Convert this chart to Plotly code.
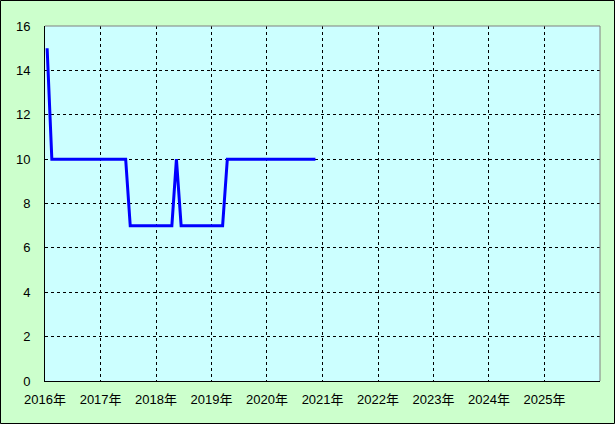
import plotly.graph_objects as go

# Monthly values, Jan 2016 .. Nov 2020 (plotted at mid-month)
months = [
    "2016-01", "2016-02", "2016-03", "2016-04", "2016-05", "2016-06",
    "2016-07", "2016-08", "2016-09", "2016-10", "2016-11", "2016-12",
    "2017-01", "2017-02", "2017-03", "2017-04", "2017-05", "2017-06",
    "2017-07", "2017-08", "2017-09", "2017-10", "2017-11", "2017-12",
    "2018-01", "2018-02", "2018-03", "2018-04", "2018-05", "2018-06",
    "2018-07", "2018-08", "2018-09", "2018-10", "2018-11", "2018-12",
    "2019-01", "2019-02", "2019-03", "2019-04", "2019-05", "2019-06",
    "2019-07", "2019-08", "2019-09", "2019-10", "2019-11", "2019-12",
    "2020-01", "2020-02", "2020-03", "2020-04", "2020-05", "2020-06",
    "2020-07", "2020-08", "2020-09", "2020-10", "2020-11",
]
values = [
    15, 10, 10, 10, 10, 10, 10, 10, 10, 10, 10, 10,
    10, 10, 10, 10, 10, 10, 7, 7, 7, 7, 7, 7,
    7, 7, 7, 7, 10, 7, 7, 7, 7, 7, 7, 7,
    7, 7, 7, 10, 10, 10, 10, 10, 10, 10, 10, 10,
    10, 10, 10, 10, 10, 10, 10, 10, 10, 10, 10,
]
year_ticks = ["2016", "2017", "2018", "2019", "2020", "2021", "2022", "2023", "2024", "2025"]
year_labels = [y + "年" for y in year_ticks]
y_ticks = [0, 2, 4, 6, 8, 10, 12, 14, 16]

x_dates = [m + "-15" for m in months]

fig = go.Figure()
fig.add_trace(go.Scatter(
    x=x_dates, y=values, mode="lines",
    line=dict(color="#0000ff", width=3),
    hoverinfo="skip",
))

W, H = 615, 424
ml, mr, mt, mb = 45, 15, 26, 43
pw, ph = W - ml - mr, H - mt - mb
font = dict(family="Liberation Sans, Noto Sans CJK JP, sans-serif", size=13, color="#000000")

fig.update_layout(
    width=W, height=H,
    margin=dict(l=ml, r=mr, t=mt, b=mb, pad=0),
    paper_bgcolor="#ccffcc",
    plot_bgcolor="#ccffff",
    showlegend=False,
    font=font,
    xaxis=dict(
        type="date",
        range=["2016-01-01", "2026-01-01"],
        tickvals=[y + "-01-01" for y in year_ticks],
        ticktext=year_labels,
        tickangle=0,
        showgrid=True, gridcolor="#000000", gridwidth=1, griddash="3px,3px",
        showline=True, linecolor="#000000", linewidth=1,
        ticks="", ticklabelstandoff=6,
        zeroline=False, fixedrange=True,
    ),
    yaxis=dict(
        range=[0, 16],
        tickvals=y_ticks,
        showgrid=True, gridcolor="#000000", gridwidth=1, griddash="3px,3px",
        showline=True, linecolor="#000000", linewidth=1,
        ticks="", ticklabelstandoff=11,
        zeroline=False, fixedrange=True,
    ),
    shapes=[
        dict(type="line", xref="paper", yref="paper", x0=0, x1=1, y0=1, y1=1,
             line=dict(color="#808080", width=1)),
        dict(type="line", xref="paper", yref="paper", x0=1, x1=1, y0=0, y1=1,
             line=dict(color="#808080", width=1)),
        dict(type="rect", xref="paper", yref="paper",
             x0=(-ml + 0.5) / pw, x1=(pw + mr - 0.5) / pw,
             y0=(-mb + 0.5) / ph, y1=(ph + mt - 0.5) / ph,
             line=dict(color="#000000", width=1), layer="below"),
    ],
)

fig.write_html(
    "out.html",
    config={"displayModeBar": False, "staticPlot": True},
    post_script="document.body.style.margin='0';document.body.style.overflow='hidden';",
)
